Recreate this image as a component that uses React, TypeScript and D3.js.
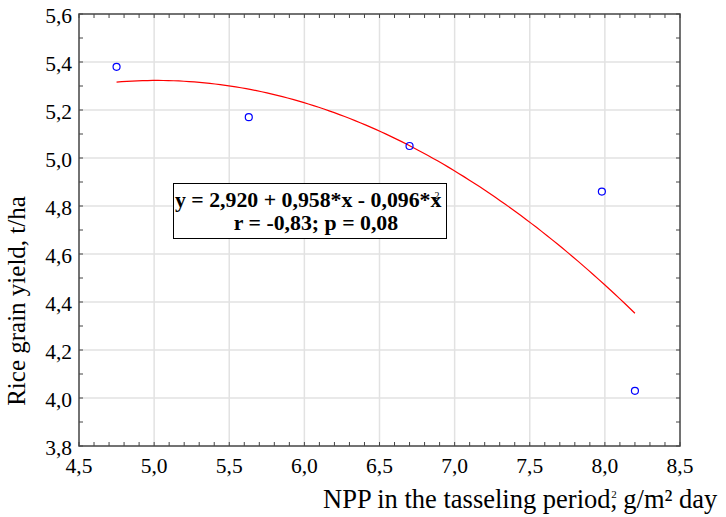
import React from "react";
import * as d3 from "d3";

const npp = [4.75, 5.63, 6.70, 7.98, 8.20];
const yieldVals = [5.38, 5.17, 5.05, 4.86, 4.03];
const xTicks = [4.5, 5.0, 5.5, 6.0, 6.5, 7.0, 7.5, 8.0, 8.5];
const yTicks = [3.8, 4.0, 4.2, 4.4, 4.6, 4.8, 5.0, 5.2, 5.4, 5.6];
const eqLine1 = "y = 2,920 + 0,958*x - 0,096*x";
const eqLine2 = "r = -0,83; p = 0,08";

function quadFit(xs: number[], ys: number[]) {
  const n = xs.length;
  let s = [0, 0, 0, 0, 0];
  let t = [0, 0, 0];
  for (let i = 0; i < n; i++) {
    for (let k = 0; k < 5; k++) s[k] += Math.pow(xs[i], k);
    for (let k = 0; k < 3; k++) t[k] += ys[i] * Math.pow(xs[i], k);
  }
  const A = [
    [s[0], s[1], s[2], t[0]],
    [s[1], s[2], s[3], t[1]],
    [s[2], s[3], s[4], t[2]],
  ];
  for (let i = 0; i < 3; i++) {
    let p = i;
    for (let r = i + 1; r < 3; r++) if (Math.abs(A[r][i]) > Math.abs(A[p][i])) p = r;
    [A[i], A[p]] = [A[p], A[i]];
    for (let r = 0; r < 3; r++) {
      if (r === i) continue;
      const f = A[r][i] / A[i][i];
      for (let c = i; c < 4; c++) A[r][c] -= f * A[i][c];
    }
  }
  return [A[0][3] / A[0][0], A[1][3] / A[1][1], A[2][3] / A[2][2]];
}

export default function App() {
  const W = 726, H = 517;
  const left = 79, right = 680, top = 14, bottom = 446;
  const x = d3.scaleLinear().domain([4.5, 8.5]).range([left, right]);
  const y = d3.scaleLinear().domain([3.8, 5.6]).range([bottom, top]);
  const [a, b, c] = quadFit(npp, yieldVals);
  const xmin = d3.min(npp)!, xmax = d3.max(npp)!;
  const curvePts = d3.range(0, 101).map((i) => {
    const xv = xmin + ((xmax - xmin) * i) / 100;
    return [xv, a + b * xv + c * xv * xv] as [number, number];
  });
  const line = d3.line<[number, number]>().x((d) => x(d[0])).y((d) => y(d[1]));
  const xMinor = d3.range(45, 86).map((v) => v / 10);
  const yMinor = d3.range(38, 57).map((v) => v / 10);
  const frame = "#444";
  const font = "Liberation Serif, Tinos, Times New Roman, serif";
  const tl = 4;
  return (
    <svg width={W} height={H} style={{ position: "absolute", left: 0, top: 0, background: "#fff" }}>
      <rect x={0} y={0} width={W} height={H} fill="#fff" />
      {xTicks.slice(1, -1).map((t) => (
        <line key={"gx" + t} x1={x(t)} x2={x(t)} y1={top} y2={bottom} stroke="#e2e2e2" strokeWidth={1.5} />
      ))}
      {yTicks.slice(1, -1).map((t) => (
        <line key={"gy" + t} x1={left} x2={right} y1={y(t)} y2={y(t)} stroke="#e2e2e2" strokeWidth={1.5} />
      ))}
      {xMinor.map((t) => (
        <g key={"mx" + t}>
          <line x1={x(t)} x2={x(t)} y1={bottom} y2={bottom - tl} stroke={frame} strokeWidth={1} />
          <line x1={x(t)} x2={x(t)} y1={top} y2={top + tl} stroke={frame} strokeWidth={1} />
        </g>
      ))}
      {yMinor.map((t) => (
        <g key={"my" + t}>
          <line x1={left} x2={left + tl} y1={y(t)} y2={y(t)} stroke={frame} strokeWidth={1} />
          <line x1={right} x2={right - tl} y1={y(t)} y2={y(t)} stroke={frame} strokeWidth={1} />
        </g>
      ))}
      <rect x={left} y={top} width={right - left} height={bottom - top} fill="none" stroke={frame} strokeWidth={1.5} />
      <path d={line(curvePts) || ""} fill="none" stroke="#ff0000" strokeWidth={1.2} />
      {npp.map((v, i) => (
        <circle key={"p" + i} cx={x(v)} cy={y(yieldVals[i])} r={3.5} fill="none" stroke="#0000ff" strokeWidth={1.2} />
      ))}
      <g style={{ fontFamily: font }}>
        {xTicks.map((t) => (
          <text key={"tx" + t} x={x(t)} y={bottom + 27} textAnchor="middle" fontSize={21.5} fill="#000">
            {d3.format(".1f")(t).replace(".", ",")}
          </text>
        ))}
        {yTicks.map((t) => (
          <text key={"ty" + t} x={left - 7} y={y(t) + 9} textAnchor="end" fontSize={21.5} fill="#000">
            {d3.format(".1f")(t).replace(".", ",")}
          </text>
        ))}
        <rect x={173.5} y={183.5} width={273} height={55} fill="#fff" stroke="#000" strokeWidth={1} />
        <text x={175} y={207} fontSize={21.8} fontWeight="bold" fill="#000">
          {eqLine1}
          <tspan dx={-7} dy={-8} fontSize={10} fontWeight="normal">2</tspan>
        </text>
        <text x={316} y={230} textAnchor="middle" fontSize={21.8} fontWeight="bold" fill="#000">
          {eqLine2}
        </text>
        <text transform={`translate(25,${301}) rotate(-90)`} textAnchor="middle" fontSize={25} fill="#000">
          Rice grain yield, t/ha
        </text>
        <text x={323} y={508} fontSize={26.5} fill="#000">
          NPP in the tasseling period,
          <tspan dx={-6} dy={-10} fontSize={11}>2</tspan>
          <tspan dy={10}> g/m² day</tspan>
        </text>
      </g>
    </svg>
  );
}
